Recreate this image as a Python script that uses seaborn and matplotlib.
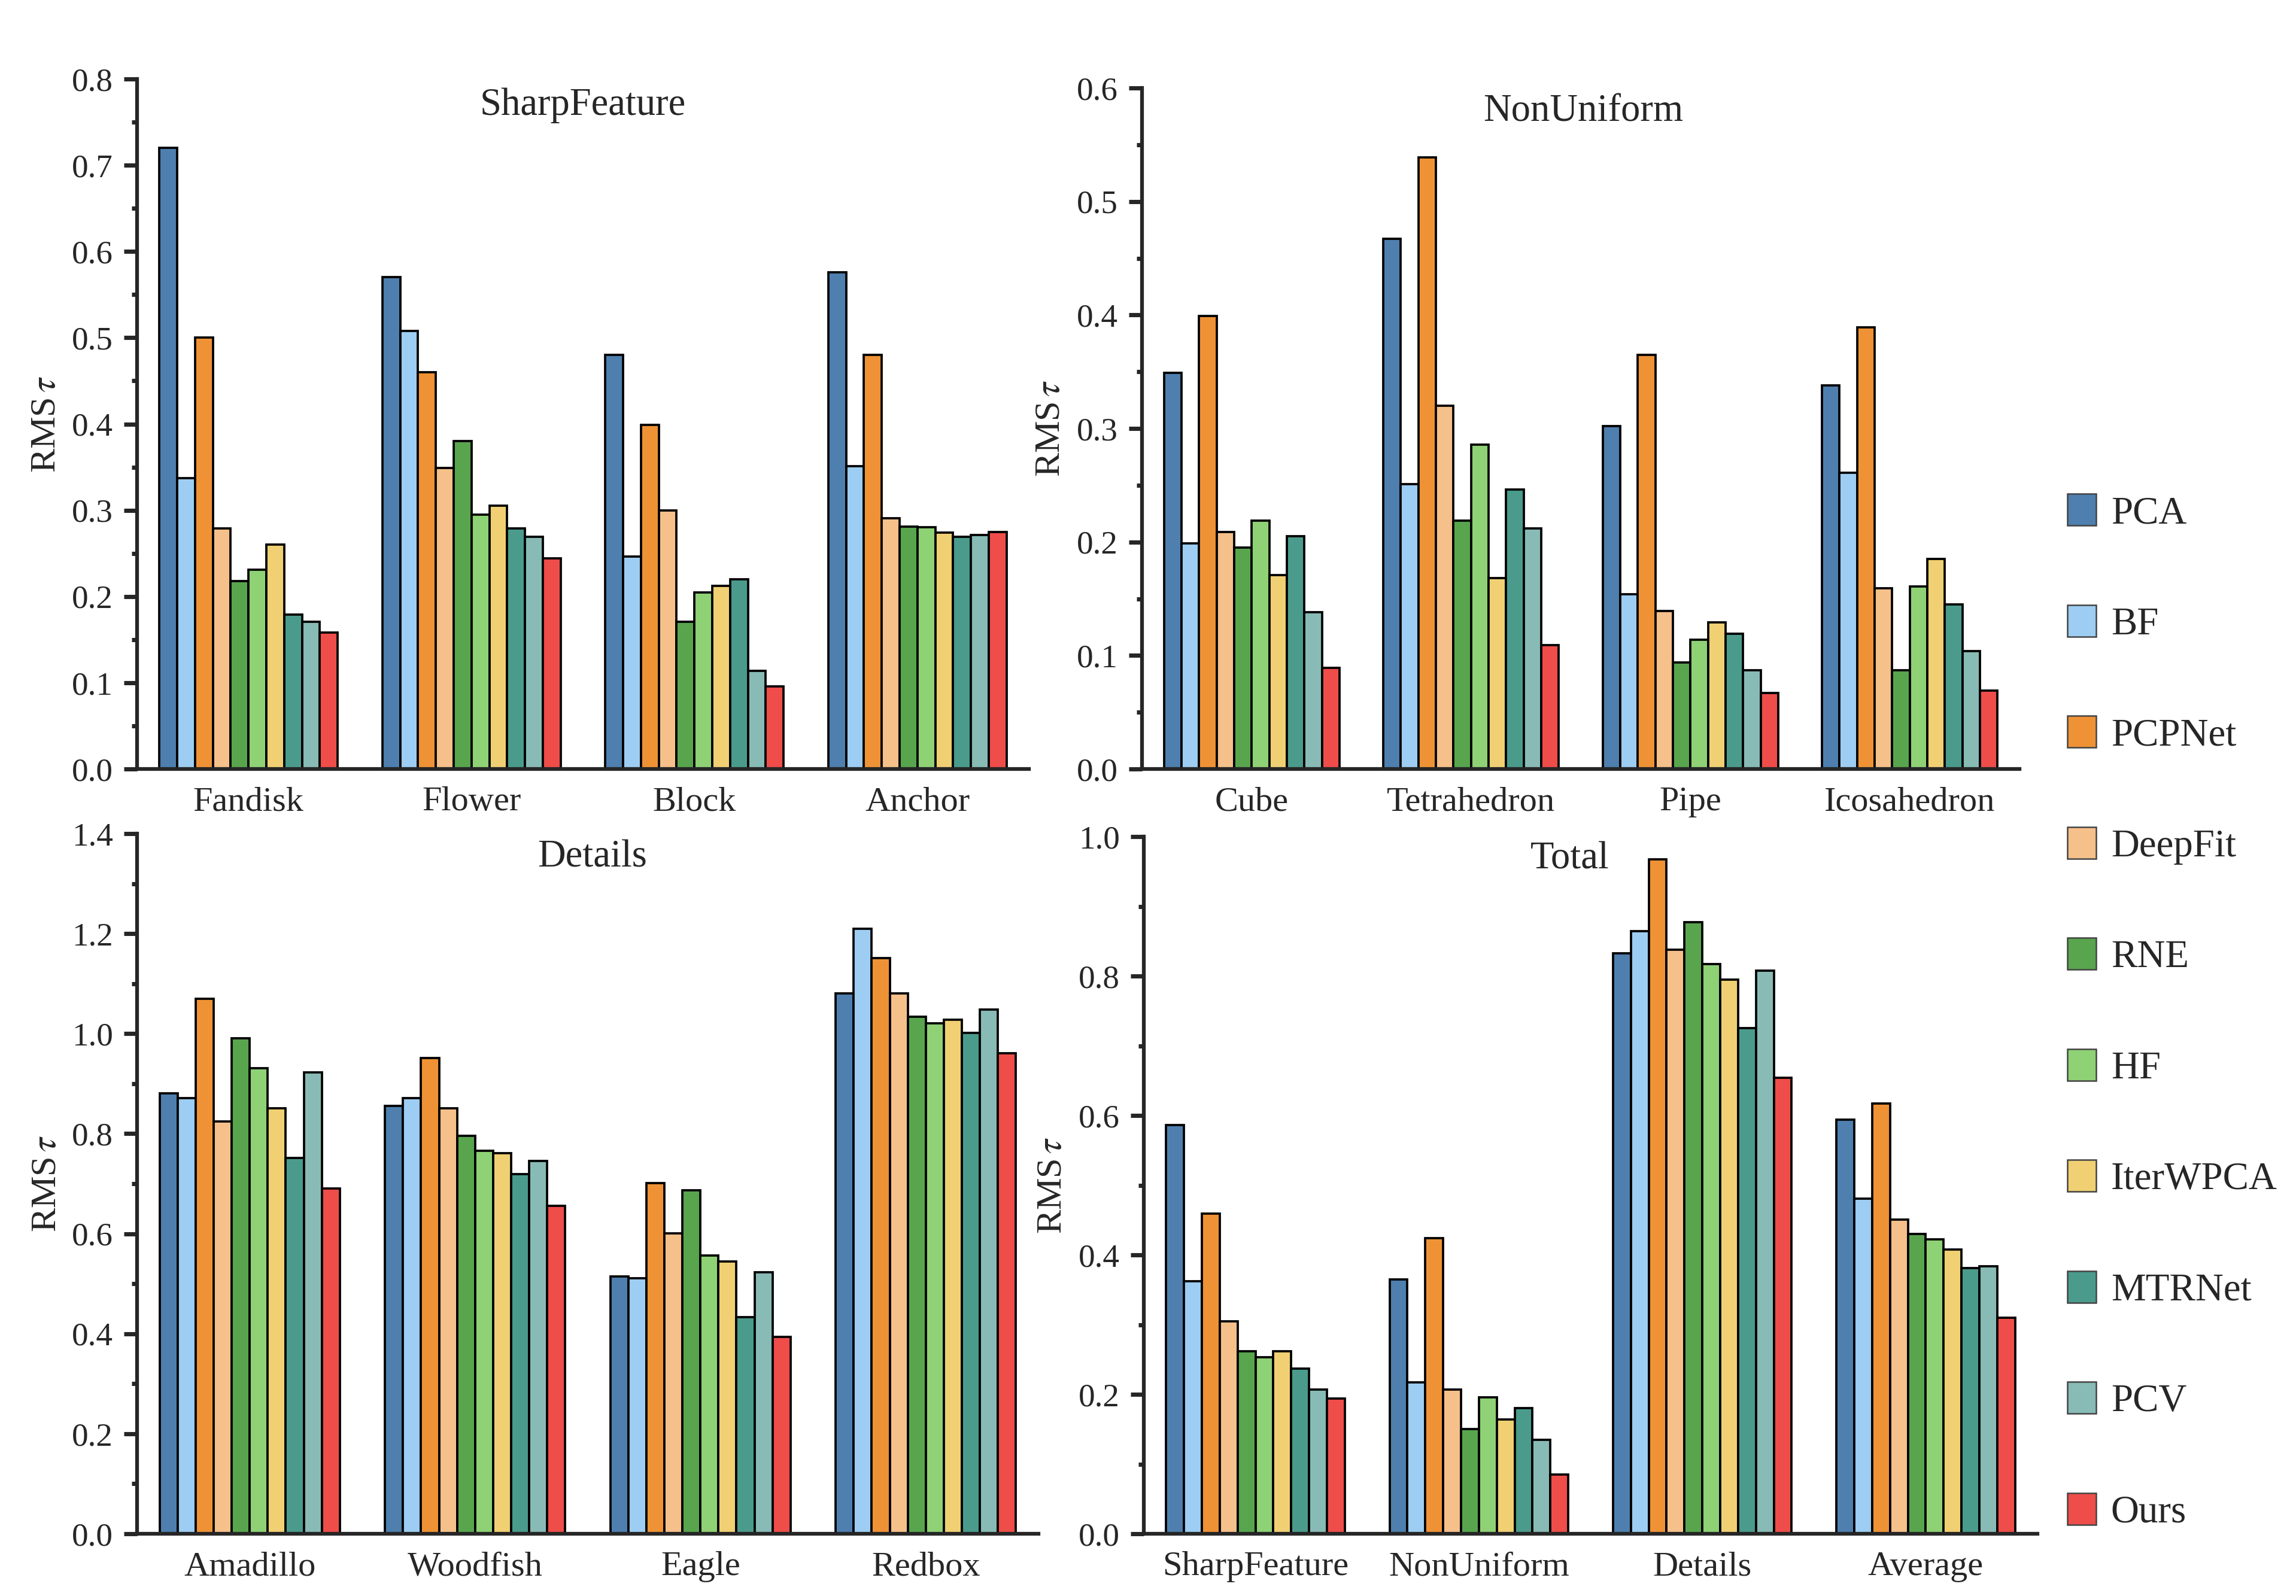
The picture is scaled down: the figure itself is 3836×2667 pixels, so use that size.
import pandas as pd
import seaborn as sns
import matplotlib.pyplot as plt
from matplotlib.patches import Patch
from matplotlib.ticker import MultipleLocator, FormatStrFormatter

# Methods and their colours
methods = ["PCA", "BF", "PCPNet", "DeepFit", "RNE", "HF", "IterWPCA", "MTRNet", "PCV", "Ours"]
colors = ["#4e7fae", "#9dcdf2", "#ef9235", "#f6c08a", "#58a54e",
          "#8fd175", "#f0d073", "#4a9b8c", "#88bbb5", "#ee4d4a"]

# SharpFeature panel
sharp_shapes = ["Fandisk", "Flower", "Block", "Anchor"]
sharp_fandisk = [0.720, 0.337, 0.500, 0.279, 0.218, 0.231, 0.260, 0.179, 0.171, 0.158]
sharp_flower = [0.570, 0.508, 0.460, 0.349, 0.380, 0.295, 0.305, 0.279, 0.269, 0.244]
sharp_block = [0.480, 0.246, 0.399, 0.300, 0.171, 0.205, 0.212, 0.220, 0.114, 0.096]
sharp_anchor = [0.576, 0.351, 0.480, 0.291, 0.281, 0.280, 0.274, 0.269, 0.271, 0.275]

# NonUniform panel
nonu_shapes = ["Cube", "Tetrahedron", "Pipe", "Icosahedron"]
nonu_cube = [0.349, 0.199, 0.399, 0.209, 0.195, 0.219, 0.171, 0.205, 0.138, 0.089]
nonu_tetra = [0.467, 0.251, 0.539, 0.320, 0.219, 0.286, 0.168, 0.246, 0.212, 0.109]
nonu_pipe = [0.302, 0.154, 0.365, 0.139, 0.094, 0.114, 0.129, 0.119, 0.087, 0.067]
nonu_icosa = [0.338, 0.261, 0.389, 0.159, 0.087, 0.161, 0.185, 0.145, 0.104, 0.069]

# Details panel
det_shapes = ["Amadillo", "Woodfish", "Eagle", "Redbox"]
det_amadillo = [0.881, 0.871, 1.070, 0.824, 0.991, 0.931, 0.851, 0.752, 0.922, 0.690]
det_woodfish = [0.855, 0.871, 0.951, 0.851, 0.796, 0.766, 0.761, 0.719, 0.746, 0.656]
det_eagle = [0.515, 0.511, 0.701, 0.601, 0.687, 0.557, 0.545, 0.433, 0.523, 0.394]
det_redbox = [1.081, 1.210, 1.151, 1.081, 1.034, 1.021, 1.028, 1.001, 1.048, 0.961]

# Total panel
tot_groups = ["SharpFeature", "NonUniform", "Details", "Average"]
tot_sharp = [0.586, 0.362, 0.459, 0.305, 0.262, 0.253, 0.262, 0.237, 0.207, 0.194]
tot_nonu = [0.365, 0.217, 0.424, 0.207, 0.150, 0.196, 0.164, 0.180, 0.135, 0.085]
tot_details = [0.833, 0.864, 0.967, 0.838, 0.877, 0.817, 0.795, 0.725, 0.808, 0.654]
tot_average = [0.594, 0.481, 0.617, 0.451, 0.430, 0.422, 0.408, 0.381, 0.384, 0.310]


def long_df(shapes, rows):
    recs = []
    for shape, vals in zip(shapes, rows):
        for m, v in zip(methods, vals):
            recs.append({"shape": shape, "method": m, "value": v})
    return pd.DataFrame(recs)


sns.set_style("ticks")
plt.rcParams["font.family"] = ["Liberation Serif", "DejaVu Serif"]
plt.rcParams["mathtext.fontset"] = "stix"

W, H = 3836, 2667
fig = plt.figure(figsize=(W / 300, H / 300), dpi=300)


def px_axes(left, right, top, bottom):
    return fig.add_axes([left / W, 1 - bottom / H, (right - left) / W, (bottom - top) / H])


# axes, groups, values, y max, major step, title, title pos, ylabel x
panels = [
    (px_axes(229, 1719, 132, 1285), sharp_shapes,
     [sharp_fandisk, sharp_flower, sharp_block, sharp_anchor],
     0.8, 0.1, "SharpFeature", (0.50, 0.962), -0.083),
    (px_axes(1908, 3374, 147, 1285), nonu_shapes,
     [nonu_cube, nonu_tetra, nonu_pipe, nonu_icosa],
     0.6, 0.1, "NonUniform", (0.503, 0.965), -0.085),
    (px_axes(229, 1735, 1393, 2563), det_shapes,
     [det_amadillo, det_woodfish, det_eagle, det_redbox],
     1.4, 0.2, "Details", (0.505, 0.966), -0.082),
    (px_axes(1911, 3404, 1398, 2563), tot_groups,
     [tot_sharp, tot_nonu, tot_details, tot_average],
     1.0, 0.2, "Total", (0.477, 0.968), -0.084),
]

for ax, shapes, rows, ytop, step, title, tpos, ylx in panels:
    df = long_df(shapes, rows)
    sns.barplot(data=df, x="shape", y="value", hue="method", order=shapes,
                hue_order=methods, palette=colors, width=0.8, gap=0,
                edgecolor="black", linewidth=0.9, errorbar=None,
                legend=False, ax=ax, saturation=1)
    ax.set_xlim(-0.5, 3.5)
    ax.set_ylim(0, ytop)
    ax.yaxis.set_major_locator(MultipleLocator(step))
    ax.yaxis.set_minor_locator(MultipleLocator(step / 2))
    ax.yaxis.set_major_formatter(FormatStrFormatter("%.1f"))
    for s in ["top", "right"]:
        ax.spines[s].set_visible(False)
    for s in ["left", "bottom"]:
        ax.spines[s].set_linewidth(1.5)
    ax.tick_params(axis="y", which="major", length=5.2, width=1.7, labelsize=13.2, pad=4.5)
    ax.tick_params(axis="y", which="minor", length=2.2, width=1.7)
    ax.tick_params(axis="x", length=0, labelsize=14, pad=7)
    ax.set_xlabel("")
    ax.set_ylabel(r"RMS$\,\tau$", fontsize=14.5)
    ax.yaxis.set_label_coords(ylx, 0.5)
    ax.text(tpos[0], tpos[1], title, transform=ax.transAxes,
            ha="center", va="center", fontsize=15.5)

handles = [Patch(facecolor=c, edgecolor="#444444", linewidth=0.6) for c in colors]
fig.legend(handles, methods, loc="upper left", bbox_to_anchor=(3454 / W, 1 - 825 / H),
           frameon=False, fontsize=15.6, handlelength=0.74, handleheight=0.88,
           handletextpad=0.38, labelspacing=1.885, borderpad=0, borderaxespad=0)

fig.savefig("out.png", dpi=300)
